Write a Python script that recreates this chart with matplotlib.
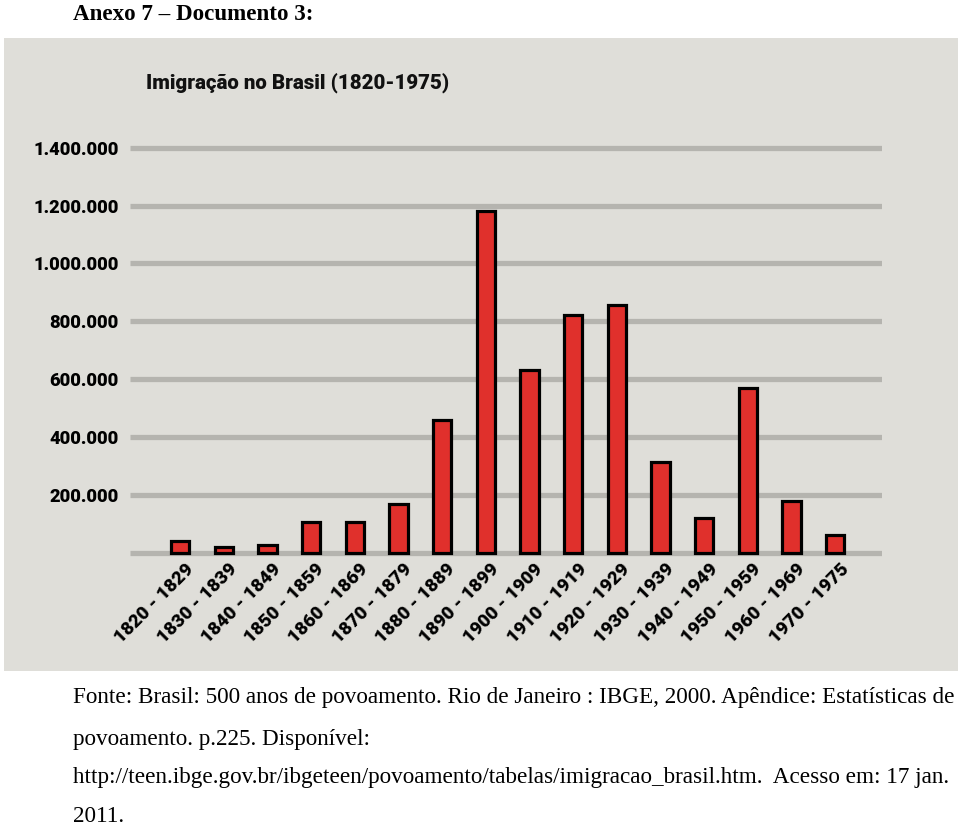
import matplotlib.pyplot as plt
from matplotlib.patches import Rectangle

# Imigração no Brasil (1820-1975)
periodos = ["1820 - 1829", "1830 - 1839", "1840 - 1849", "1850 - 1859",
            "1860 - 1869", "1870 - 1879", "1880 - 1889", "1890 - 1899",
            "1900 - 1909", "1910 - 1919", "1920 - 1929", "1930 - 1939",
            "1940 - 1949", "1950 - 1959", "1960 - 1969", "1970 - 1975"]
imigrantes = [42000, 21000, 28000, 105000, 105000, 169000, 457000, 1182000,
              632000, 822000, 857000, 315000, 119000, 569000, 180000, 62000]
yticks = [200000, 400000, 600000, 800000, 1000000, 1200000, 1400000]
ylabels = ["200.000", "400.000", "600.000", "800.000", "1.000.000",
           "1.200.000", "1.400.000"]

W, H = 960, 827
fig = plt.figure(figsize=(W / 100, H / 100), dpi=100)
fig.patch.set_facecolor("white")

# fundo cinza do gráfico
fig.add_artist(Rectangle((4 / W, 1 - 671 / H), 954 / W, 633 / H,
                         transform=fig.transFigure, facecolor="#dfded9",
                         edgecolor="none", zorder=0))

cond = ["Roboto", "DejaVu Sans"]

bottom_px, top_px = 558.5, 139.0
ax = fig.add_axes([130 / W, 1 - bottom_px / H, (882 - 130) / W,
                   (bottom_px - top_px) / H])
ax.set_facecolor("none")
ax.set_xlim(-1.145, 16.07)
ax.set_ylim(-20000, 1430000)

for v in [0] + yticks:
    ax.axhline(v, color="#b5b4af", lw=3.8, zorder=1, solid_capstyle="butt")

x = list(range(len(periodos)))
ax.bar(x, imigrantes, width=0.42, color="#e0302c", edgecolor="black",
       linewidth=2.3, zorder=3)

for s in ax.spines.values():
    s.set_visible(False)
ax.tick_params(length=0)
ax.set_yticks(yticks)
ax.set_yticklabels(ylabels, family=cond, weight="heavy", fontsize=13.2)
ax.tick_params(axis="y", pad=8)
ax.set_xticks([i + 0.1 for i in x])
ax.set_xticklabels(periodos, rotation=45, ha="right", va="top",
                   rotation_mode="anchor", family=cond, weight="heavy",
                   fontsize=13.5)
ax.tick_params(axis="x", pad=1)

fig.text(146 / W, 1 - 83 / H, "Imigração no Brasil (1820-1975)",
         family=cond, weight="heavy", fontsize=14.8, va="center", ha="left",
         color="#111111")

serif = "Liberation Serif"
fig.text(73 / W, 1 - 14 / H, "Anexo 7 – Documento 3:", family=serif,
         weight="bold", fontsize=16.6, va="center", ha="left")
linhas = [
    (698, "Fonte: Brasil: 500 anos de povoamento. Rio de Janeiro : IBGE, 2000. Apêndice: Estatísticas de"),
    (740, "povoamento. p.225. Disponível:"),
    (777, "http://teen.ibge.gov.br/ibgeteen/povoamento/tabelas/imigracao_brasil.htm.  Acesso em: 17 jan."),
    (817, "2011."),
]
for y, t in linhas:
    fig.text(73 / W, 1 - y / H, t, family=serif, fontsize=16.7,
             va="center", ha="left")

plt.savefig("out.png", dpi=100)
